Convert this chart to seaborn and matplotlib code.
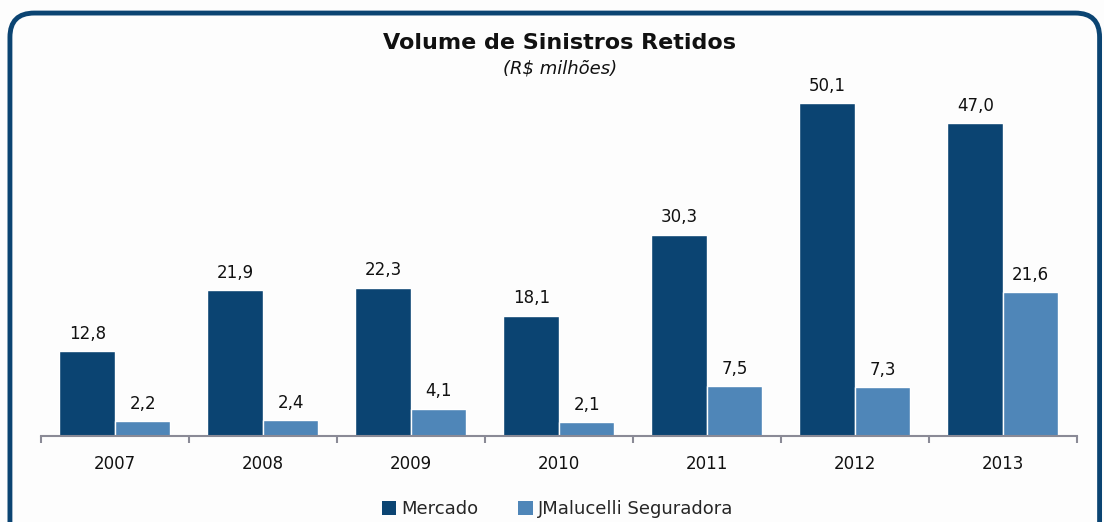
import matplotlib
matplotlib.use("Agg")
import matplotlib.pyplot as plt
from matplotlib.patches import FancyBboxPatch, Patch
import seaborn as sns
import pandas as pd

anos = ["2007", "2008", "2009", "2010", "2011", "2012", "2013"]
mercado = [12.8, 21.9, 22.3, 18.1, 30.3, 50.1, 47.0]
jmalucelli = [2.2, 2.4, 4.1, 2.1, 7.5, 7.3, 21.6]
series = ["Mercado", "JMalucelli Seguradora"]
cores = ["#0B4472", "#4F86B8"]

df = pd.DataFrame({
    "ano": anos * 2,
    "valor": mercado + jmalucelli,
    "serie": [series[0]] * len(anos) + [series[1]] * len(anos),
})

sns.set_style("white")
plt.rcParams["font.family"] = ["DejaVu Sans"]

fig = plt.figure(figsize=(11.04, 5.22), dpi=100)
fig.patch.set_facecolor("#FDFDFD")

# moldura arredondada
borda = FancyBboxPatch((0.009, -0.05), 0.987, 1.025,
                       boxstyle="round,pad=0,rounding_size=0.022",
                       transform=fig.transFigure, fill=False,
                       edgecolor="#0B4472", linewidth=3.5, mutation_aspect=2.1)
fig.patches.append(borda)

ax = fig.add_axes([0.0371, 0.1648, 0.9384, 0.6916])
ax.set_facecolor("none")
sns.barplot(data=df, x="ano", y="valor", hue="serie", palette=cores,
            width=0.75, ax=ax, legend=False, saturation=1)

for cont in ax.containers:
    ax.bar_label(cont, labels=[f"{v:.1f}".replace(".", ",") for v in cont.datavalues],
                 padding=6, fontsize=12, color="#111111")

ax.set_xlim(-0.5, len(anos) - 0.5)
ax.set_ylim(0, 54.3)
ax.set_xlabel("")
ax.set_ylabel("")
ax.set_yticks([])
for s in ["top", "right", "left"]:
    ax.spines[s].set_visible(False)
ax.spines["bottom"].set_color("#8A8A96")
ax.spines["bottom"].set_linewidth(1.5)
ax.set_xticks([i - 0.5 for i in range(len(anos) + 1)], minor=True)
ax.tick_params(axis="x", which="major", bottom=False, length=0, labelsize=12, pad=14,
               labelcolor="#111111")
ax.tick_params(axis="x", which="minor", bottom=True, length=5, width=1.5,
               color="#8A8A96", direction="out")

fig.text(0.507, 0.918, "Volume de Sinistros Retidos", ha="center", va="center",
         fontsize=16, fontweight="bold", color="#111111")
fig.text(0.507, 0.868, "(R$ milhões)", ha="center", va="center",
         fontsize=13, style="italic", color="#111111")

handles = [Patch(facecolor=c, edgecolor="none", label=s) for c, s in zip(cores, series)]
fig.legend(handles=handles, loc="center", bbox_to_anchor=(0.505, 0.024), ncol=2,
           frameon=False, fontsize=13, handlelength=0.8, handleheight=0.8,
           handletextpad=0.3, columnspacing=2.2, borderpad=0.1)

fig.savefig("out.png", dpi=100, facecolor=fig.get_facecolor())
